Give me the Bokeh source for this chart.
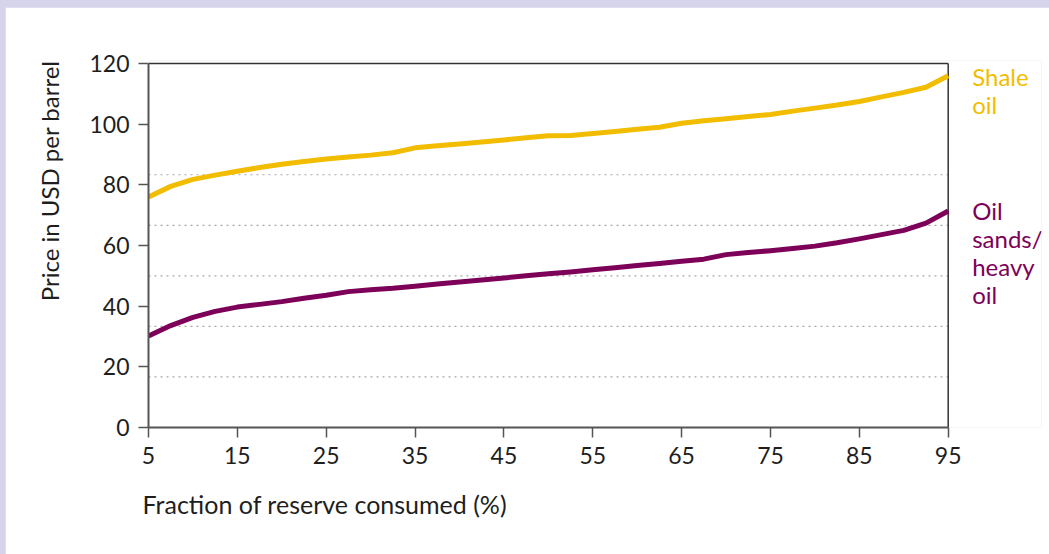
from bokeh.embed import file_html
from bokeh.layouts import column
from bokeh.models import ColumnDataSource, FixedTicker, Label, Title
from bokeh.plotting import figure
from bokeh.resources import INLINE

# Fraction of reserve consumed (%)
fraction = [5, 7.5, 10, 12.5, 15, 17.5, 20, 22.5, 25, 27.5, 30, 32.5, 35, 37.5,
            40, 42.5, 45, 47.5, 50, 52.5, 55, 57.5, 60, 62.5, 65, 67.5, 70, 72.5,
            75, 77.5, 80, 82.5, 85, 87.5, 90, 92.5, 95]

# Price in USD per barrel
shale_oil = [76.0, 79.5, 81.8, 83.2, 84.5, 85.7, 86.8, 87.7, 88.5, 89.2, 89.8,
             90.6, 92.2, 92.9, 93.5, 94.1, 94.8, 95.5, 96.2, 96.3, 96.9, 97.6,
             98.3, 99.0, 100.3, 101.1, 101.8, 102.5, 103.2, 104.3, 105.3, 106.3,
             107.5, 109.0, 110.5, 112.2, 116.0]
oil_sands = [30.2, 33.6, 36.3, 38.3, 39.7, 40.6, 41.5, 42.6, 43.6, 44.8, 45.4,
             45.9, 46.6, 47.3, 48.0, 48.6, 49.3, 50.0, 50.7, 51.3, 52.0, 52.7,
             53.4, 54.1, 54.8, 55.5, 57.0, 57.7, 58.3, 59.0, 59.8, 60.9, 62.2,
             63.6, 65.0, 67.4, 71.4]

x_ticks = [5, 15, 25, 35, 45, 55, 65, 75, 85, 95]
y_ticks = [0, 20, 40, 60, 80, 100, 120]
grid_levels = [100 / 6, 200 / 6, 300 / 6, 400 / 6, 500 / 6]

SHALE = "#f2bd00"
SANDS = "#7d0059"
TEXT = "#1e1e1e"
FRAME = "#555555"
FONT = "Lato"

x_lo, x_hi = x_ticks[0], x_ticks[-1]
y_lo, y_hi = y_ticks[0], y_ticks[-1]

src = ColumnDataSource(dict(x=fraction, shale=shale_oil, sands=oil_sands))

# The frame runs past x=95 so the series names can sit to the right of the
# curves; the visible box is drawn by hand and the axes are bounded.
p = figure(width=1044, height=547, x_range=(5, 105.5), y_range=(0, 121),
           output_backend="svg", toolbar_location=None,
           min_border_left=143, min_border_right=8,
           min_border_top=53, min_border_bottom=127)
p.margin = (7, 0, 0, 5)
p.background_fill_color = "white"
p.border_fill_color = "white"
p.outline_line_color = None
p.xgrid.visible = False
p.ygrid.visible = False

for ax in (p.xaxis[0], p.yaxis[0]):
    ax.axis_line_color = FRAME
    ax.axis_line_width = 2
    ax.major_tick_line_color = FRAME
    ax.major_tick_line_width = 1.5
    ax.major_tick_out = 10
    ax.major_tick_in = 0
    ax.minor_tick_line_color = None
    ax.major_label_text_font = FONT
    ax.major_label_text_font_size = "23px"
    ax.major_label_text_color = TEXT
    ax.major_label_standoff = 9

p.xaxis.ticker = FixedTicker(ticks=x_ticks)
p.yaxis.ticker = FixedTicker(ticks=y_ticks)
p.xaxis.bounds = (x_lo, x_hi)
p.yaxis.bounds = (y_lo, y_hi)

# Axis titles: flush with the left edge (x) and the top edge (y) of the box
p.add_layout(Title(text="Fraction of reserve consumed (%)", align="left",
                   offset=-6, text_font=FONT, text_font_style="normal",
                   text_font_size="25px", text_color=TEXT, standoff=40),
             "below")
p.add_layout(Title(text="Price in USD per barrel", align="right",
                   text_font=FONT, text_font_style="normal",
                   text_font_size="24px", text_color=TEXT, standoff=46),
             "left")

# dotted horizontal guides
n = len(grid_levels)
p.segment(x0=[x_lo] * n, x1=[x_hi] * n, y0=grid_levels, y1=grid_levels,
          line_color="#a8a8a8", line_dash="2 4", line_width=1.2)

# top and right edges of the box
p.segment(x0=[x_lo, x_hi], x1=[x_hi, x_hi], y0=[y_hi, y_lo], y1=[y_hi, y_hi],
          line_color="#333333", line_width=1.5)

p.line("x", "shale", source=src, line_color=SHALE, line_width=5,
       line_join="round")
p.line("x", "sands", source=src, line_color=SANDS, line_width=5,
       line_join="round")

# Series names at the right end of each curve
p.add_layout(Label(x=97.7, y=120.5, text="Shale\noil", text_align="left",
                   text_baseline="top", text_font=FONT, text_font_size="24px",
                   text_line_height=0.96, text_color=SHALE))
p.add_layout(Label(x=97.7, y=76.3, text="Oil\nsands/\nheavy\noil",
                   text_align="left", text_baseline="top", text_font=FONT,
                   text_font_size="24px", text_line_height=0.96,
                   text_color=SANDS))

page = column(p, styles={"background-color": "#d6d4ea"})

open("out.html", "w").write(file_html(page, INLINE))
